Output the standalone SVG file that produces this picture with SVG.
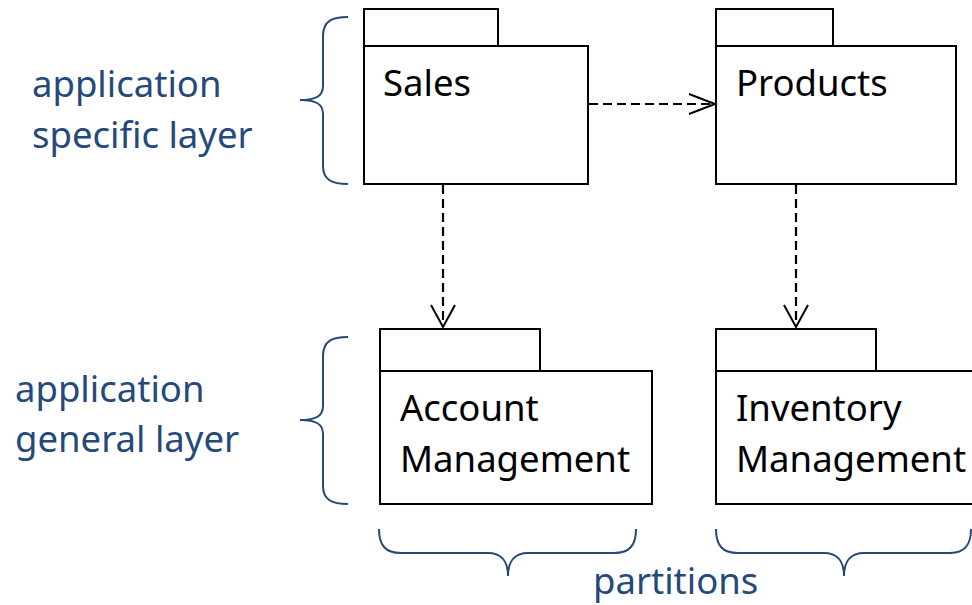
<svg xmlns="http://www.w3.org/2000/svg" width="972" height="605" viewBox="0 0 972 605">
<style>
.box{fill:#fff;stroke:#000;stroke-width:2}
.lbl{font-family:"Noto Sans",sans-serif;font-size:36.5px;fill:#000}
.note{font-family:"Noto Sans",sans-serif;font-size:36.5px;fill:#24497a}
.brace{fill:none;stroke:#24497a;stroke-width:2}
.dep{fill:none;stroke:#000;stroke-width:2.2;stroke-dasharray:9 5}
.head{fill:none;stroke:#000;stroke-width:2}
</style>
<rect width="972" height="605" fill="#fff"/>
<g id="notes">
<text class="note" x="32" y="97">application</text>
<text class="note" x="32" y="148">specific layer</text>
<text class="note" x="15" y="402">application</text>
<text class="note" x="15" y="452">general layer</text>
<text class="note" x="593" y="594">partitions</text>
</g>
<g id="braces">
<path class="brace" d="M348,17 C332,17 323,21 323,36 L323,86 C323,96 316,100 300,100 C316,100 323,104 323,114 L323,166 C323,180 332,184 348,184"/>
<path class="brace" d="M348,337 C332,337 323,341 323,356 L323,406 C323,416 316,420 300,420 C316,420 323,424 323,434 L323,486 C323,500 332,504 348,504"/>
<path class="brace" d="M379,529 C379,545 385,553 401,553 L488,553 C500,553 508,560 508,576 C508,560 516,553 528,553 L614,553 C630,553 636,545 636,529"/>
<path class="brace" d="M716,529 C716,545 722,553 738,553 L824,553 C836,553 844,560 844,576 C844,560 852,553 864,553 L950,553 C965,553 971,545 971,529"/>
</g>
<g id="sales">
<rect class="box" x="364" y="9" width="134" height="37"/>
<rect class="box" x="364" y="46" width="224" height="138"/>
<text class="lbl" x="383" y="96">Sales</text>
</g>
<g id="products">
<rect class="box" x="716" y="9" width="117" height="37"/>
<rect class="box" x="716" y="46" width="240" height="138"/>
<text class="lbl" x="736" y="96">Products</text>
</g>
<g id="account">
<rect class="box" x="380" y="329" width="160" height="42"/>
<rect class="box" x="380" y="371" width="272" height="133"/>
<text class="lbl" x="400" y="421">Account</text>
<text class="lbl" x="400" y="472">Management</text>
</g>
<g id="inventory">
<rect class="box" x="716" y="329" width="160" height="42"/>
<rect class="box" x="716" y="371" width="270" height="133"/>
<text class="lbl" x="736" y="421">Inventory</text>
<text class="lbl" x="736" y="472">Management</text>
</g>
<g id="connectors">
<line class="dep" x1="589" y1="104" x2="714" y2="104"/>
<polyline class="head" points="689,94 715,104 689,114"/>
<line class="dep" x1="443" y1="185" x2="443" y2="326"/>
<polyline class="head" points="431,305 443,327 455,305"/>
<line class="dep" x1="796" y1="185" x2="796" y2="326"/>
<polyline class="head" points="784,305 796,327 808,305"/>
</g>
</svg>
